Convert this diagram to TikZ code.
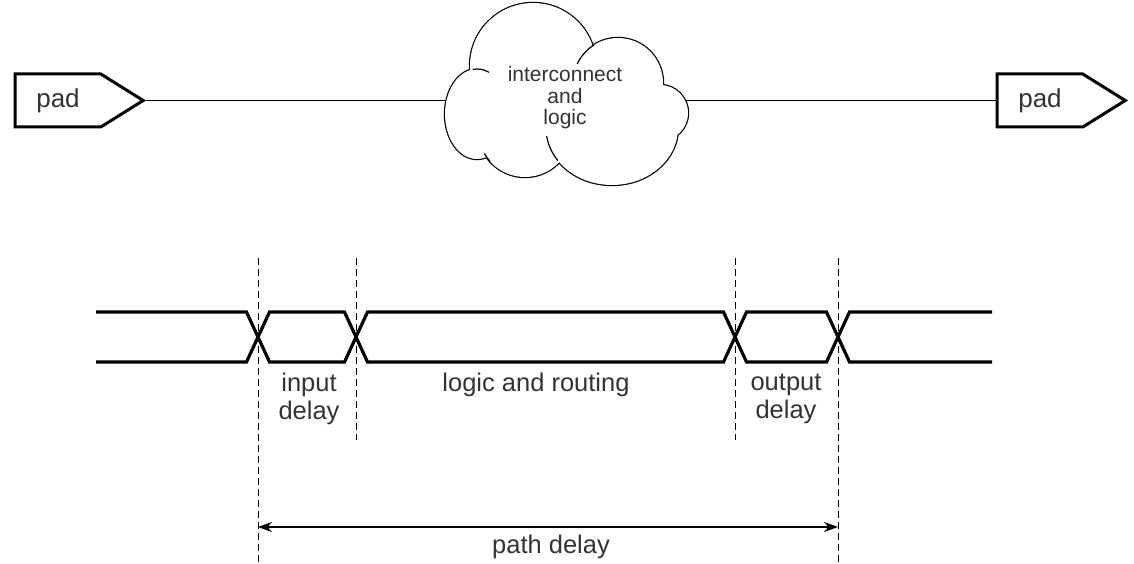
\documentclass[tikz,border=0pt]{standalone}
\usepackage{fontspec}
\setmainfont{Liberation Sans}
\usetikzlibrary{arrows.meta,positioning,shapes.symbols}

\begin{document}
\begin{tikzpicture}[x=1pt,y=-1pt,>=Stealth,
  pad/.style={draw,line width=3pt,signal,signal to=east,signal pointer angle=64,
    minimum width=128pt,minimum height=53pt,inner sep=0pt,
    font=\fontsize{26}{28}\selectfont,text=black!80},
  wire/.style={line width=1.2pt},
  rail/.style={line width=3.2pt},
  marker/.style={dash pattern=on 7pt off 4pt,line width=1pt},
  span/.style={<->,line width=1.8pt,>={Stealth[length=14pt,width=10pt]}},
  lbl/.style={align=center,text=black!80,font=\fontsize{25.5}{28}\selectfont},
  cloudtext/.style={align=center,text=black!80,font=\fontsize{21}{21.5}\selectfont},
  puff/.style={line width=2.4pt}]
\useasboundingbox (0,0) rectangle (1134,564);

% pads and wires
\node[pad] (padL) at (58,100.5) {pad};
\node[pad] (padR) at (1040,100.5) {pad};
\coordinate (cloudW) at (446,100.5);
\coordinate (cloudE) at (686,100.5);
\draw[wire] (padL.east) -- (cloudW);
\draw[wire] (cloudE) -- (padR.west);

% cloud: outline of overlapping puffs
\draw[puff] (477,114) circle[x radius=32,y radius=45]
  (533,66) circle[radius=63]
  (618,83) circle[radius=45]
  (660,113) circle[radius=28]
  (612,128) circle[x radius=66,y radius=57]
  (525,130) circle[radius=47];
\fill[white] (477,114) circle[x radius=32,y radius=45]
  (533,66) circle[radius=63]
  (618,83) circle[radius=45]
  (660,113) circle[radius=28]
  (612,128) circle[x radius=66,y radius=57]
  (525,130) circle[radius=47];
\draw[wire,shift={(618,83)}] (205:45) arc[start angle=205,end angle=238,radius=45];
\draw[wire,shift={(612,128)}] (145:66 and 57) arc[start angle=145,end angle=172,x radius=66,y radius=57];
\draw[wire,shift={(525,130)}] (138:47) arc[start angle=138,end angle=150,radius=47];
\draw[wire,shift={(477,114)}] (262:32 and 45) arc[start angle=262,end angle=292,x radius=32,y radius=45];
\node[cloudtext] (cloud) at (565,98) {interconnect\\and\\logic};

% timing
\coordinate (m1) at (258,258);
\coordinate (m2) at (356,258);
\coordinate (m3) at (735,258);
\coordinate (m4) at (838,258);
\draw[marker] (m1) -- ++(0,306);
\draw[marker] (m2) -- ++(0,182);
\draw[marker] (m3) -- ++(0,182);
\draw[marker] (m4) -- ++(0,306);

\draw[rail] (96,312) -- (246.5,312) -- (269.5,362) -- (344.5,362) -- (367.5,312)
  -- (723.5,312) -- (746.5,362) -- (826.5,362) -- (849.5,312) -- (992,312);
\draw[rail] (96,362) -- (246.5,362) -- (269.5,312) -- (344.5,312) -- (367.5,362)
  -- (723.5,362) -- (746.5,312) -- (826.5,312) -- (849.5,362) -- (992,362);

\node[lbl] (inlbl) at (309,399) {input\\delay};
\node[lbl] (midlbl) at (536,385) {logic and routing};
\node[lbl] (outlbl) at (786,399) {output\\delay};

\coordinate (pdL) at (258,527);
\coordinate (pdR) at (838,527);
\draw[span] (pdL) -- (pdR);
\node[lbl] (pathlbl) at (551,547) {path delay};
\end{tikzpicture}
\end{document}
